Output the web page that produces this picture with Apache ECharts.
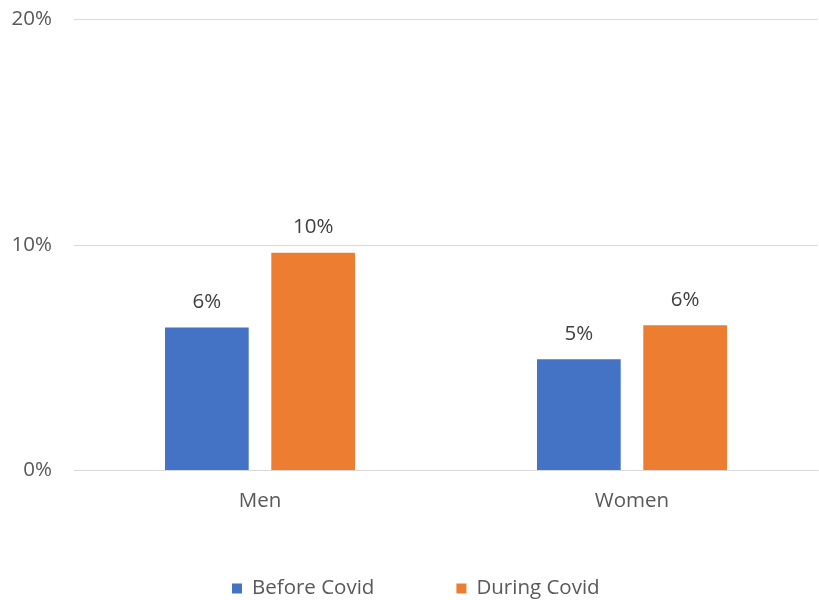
<!DOCTYPE html>
<html>
<head>
<meta charset="utf-8">
<script src="https://cdn.jsdelivr.net/npm/echarts@6/dist/echarts.min.js"></script>
<style>
  html, body { margin: 0; padding: 0; background: #fff; }
  #chart { width: 819px; height: 600px; }
</style>
</head>
<body>
<div id="chart"></div>
<script>
const categories = ['Men', 'Women']
const beforeCovid = [6.33, 4.92]
const duringCovid = [9.65, 6.43]
const yTicks = [0, 10, 20]

const font = '"Open Sans", "Noto Sans", sans-serif'
const textColor = '#595959'

const chart = echarts.init(document.getElementById('chart'))

const barLabel = {
  show: true,
  position: 'top',
  distance: 15,
  color: '#404040',
  fontFamily: font,
  fontSize: 20.5,
  formatter: p => Math.round(p.value) + '%'
}

chart.setOption({
  animation: false,
  textStyle: { fontFamily: font },
  grid: { left: 74, right: 1, top: 19.5, bottom: 130 },
  legend: {
    bottom: -4,
    left: 227,
    itemWidth: 10,
    itemHeight: 10,
    itemGap: 82,
    icon: 'rect',
    textStyle: { color: textColor, fontSize: 20.5, fontFamily: font, padding: [0, 0, 0, 5] },
    data: ['Before Covid', 'During Covid']
  },
  xAxis: {
    type: 'category',
    data: categories,
    axisLine: { lineStyle: { color: '#d9d9d9', width: 1 } },
    axisTick: { show: false },
    axisLabel: { color: textColor, fontSize: 20.5, margin: 21, fontFamily: font }
  },
  yAxis: {
    type: 'value',
    min: yTicks[0],
    max: yTicks[yTicks.length - 1],
    interval: 10,
    axisLine: { show: false },
    axisTick: { show: false },
    axisLabel: { color: textColor, fontSize: 20.5, margin: 22, fontFamily: font, formatter: v => v + '%' },
    splitLine: { lineStyle: { color: '#d9d9d9', width: 1 } }
  },
  series: [
    {
      name: 'Before Covid',
      type: 'bar',
      data: beforeCovid,
      barWidth: '22.5%',
      barGap: '27%',
      itemStyle: { color: '#4472c4' },
      label: barLabel
    },
    {
      name: 'During Covid',
      type: 'bar',
      data: duringCovid,
      barWidth: '22.5%',
      itemStyle: { color: '#ed7d31' },
      label: barLabel
    }
  ]
})
</script>
</body>
</html>
